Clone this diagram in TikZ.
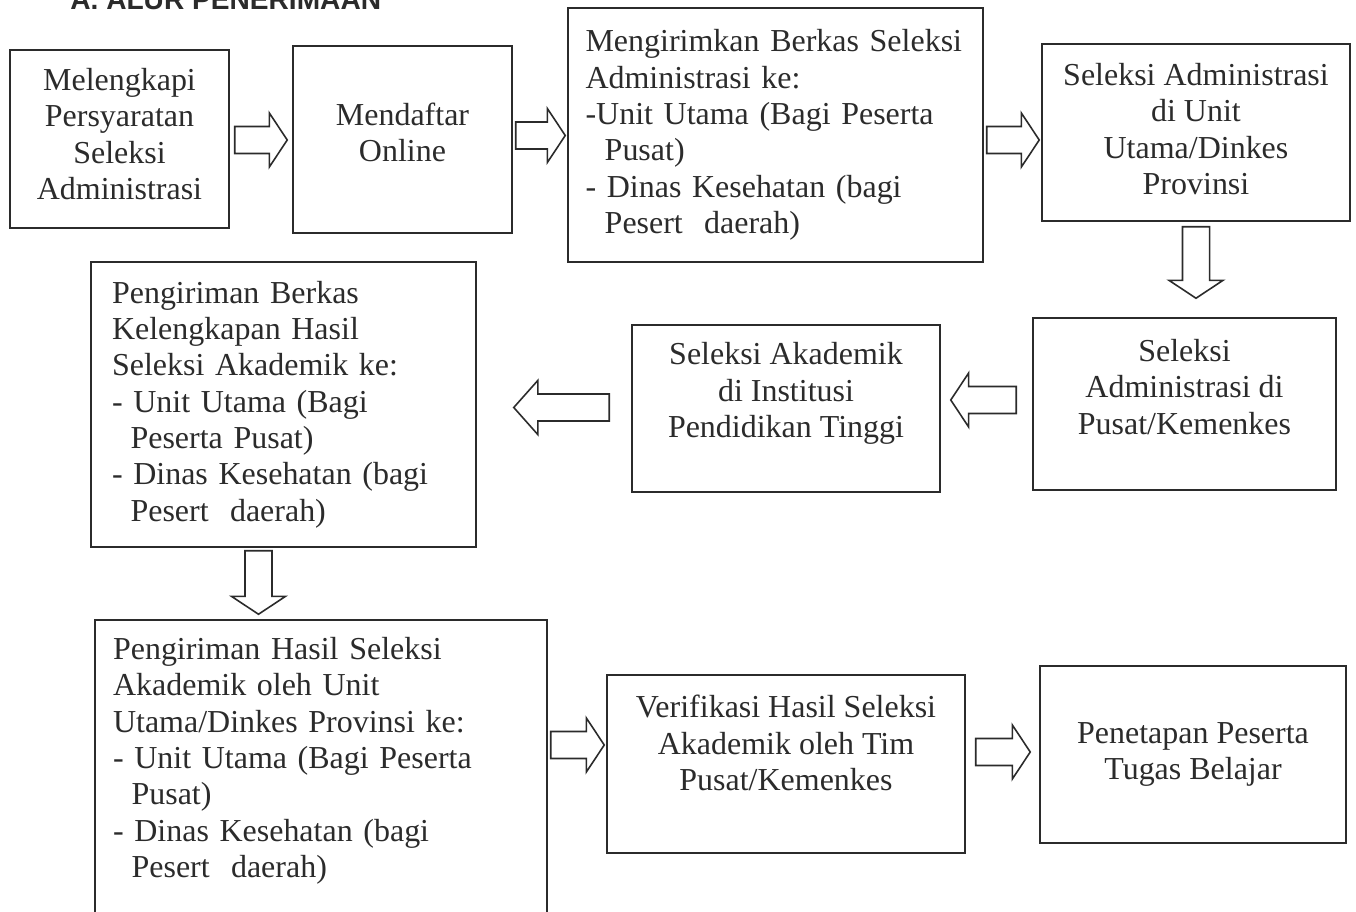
\documentclass[tikz,border=0pt]{standalone}
\usepackage{fontspec}
\setmainfont{Liberation Serif}
\newfontfamily\headfont{Liberation Sans}
\usetikzlibrary{calc}
\usepackage{xcolor}

\definecolor{ink}{HTML}{2B2B2B}

% deepen the last line, so the text sits higher in its box
\newcommand{\drop}[1]{\rule[-#1]{0pt}{0pt}}
\newcommand{\subindent}{\hspace*{0.58em}}
% hollow block arrow from tail (#2) to tip (#3), head length #1
\newcommand{\flowarrow}[3][10.2pt]{%
  \draw[blockarr] let \p1=#2, \p2=#3,
      \n1={atan2(\y2-\y1,\x2-\x1)}, \n2={veclen(\x2-\x1,\y2-\y1)} in
    [shift={(\p1)}, rotate=\n1]
    (0pt,-7.7pt) -- ({\n2*1pt-#1},-7.7pt) -- ({\n2*1pt-#1},-15.4pt) -- ({\n2*1pt},0pt)
    -- ({\n2*1pt-#1},15.4pt) -- ({\n2*1pt-#1},7.7pt) -- (0pt,7.7pt) -- cycle;}

\begin{document}
\begin{tikzpicture}[
                  x = 0.02cm,
                  y = -0.02cm,
        stage/.style = {draw=ink, line width=0.9pt, inner sep=0pt, text=ink,
                        font=\fontsize{18.2}{20.7}\selectfont, align=center},
    stageleft/.style = {stage, align=left},
     blockarr/.style = {draw=ink, line width=0.9pt, fill=white, line join=miter},
                     ]
\useasboundingbox (0,0) rectangle (1356,912);

\node[anchor=base west, inner sep=0pt, text=ink,
      font=\headfont\bfseries\fontsize{16}{16}\selectfont] (judul) at (70,10) {A. ALUR PENERIMAAN};

% top row
\node[stage, minimum width=4.38cm, minimum height=3.56cm] (mel) at (119.5,139)
    {Melengkapi\\ Persyaratan\\ Seleksi\\ Administrasi\drop{6pt}};
\node[stage, minimum width=4.38cm, minimum height=3.74cm] (daf) at (402.5,139.5)
    {Mendaftar\\ Online\drop{8pt}};
\node[stageleft, text width=7.6cm, minimum width=8.3cm, minimum height=5.08cm] (kir) at (775.5,135)
    {Mengirimkan Berkas Seleksi\\ Administrasi ke:\\ -Unit Utama (Bagi Peserta\\
     \hspace*{0.6em}Pusat)\\ - Dinas Kesehatan (bagi\\ \hspace*{0.6em}Pesert~ daerah)};
\node[stage, minimum width=6.16cm, minimum height=3.54cm] (sua) at (1196,132.5)
    {Seleksi Administrasi\\ di Unit\\ Utama/Dinkes\\ Provinsi\drop{4pt}};

% middle row
\node[stage, minimum width=6.06cm, minimum height=3.44cm] (sap) at (1184.5,404)
    {Seleksi\\ Administrasi di\\ Pusat/Kemenkes\drop{19.5pt}};
\node[stage, minimum width=6.16cm, minimum height=3.34cm] (aka) at (786,408.5)
    {Seleksi Akademik\\ di Institusi\\ Pendidikan Tinggi\drop{21pt}};
\node[stageleft, text width=6.86cm, minimum width=7.7cm, minimum height=5.7cm] (pbk) at (283.5,404.5)
    {Pengiriman Berkas\\ Kelengkapan Hasil\\ Seleksi Akademik ke:\\ - Unit Utama (Bagi\\
     \subindent Peserta Pusat)\\ - Dinas Kesehatan (bagi\\ \subindent Pesert~ daerah)};

% bottom row
\node[stageleft, text width=8.32cm, minimum width=9.04cm, minimum height=6.8cm] (phs) at (321,790)
    {Pengiriman Hasil Seleksi\\ Akademik oleh Unit\\ Utama/Dinkes Provinsi ke:\\
     - Unit Utama (Bagi Peserta\\ \subindent Pusat)\\ - Dinas Kesehatan (bagi\\
     \subindent Pesert~ daerah)\drop{37pt}};
\node[stage, minimum width=7.16cm, minimum height=3.56cm] (ver) at (786,764)
    {Verifikasi Hasil Seleksi\\ Akademik oleh Tim\\ Pusat/Kemenkes\drop{24pt}};
\node[stage, minimum width=6.12cm, minimum height=3.54cm] (pen) at (1193,754.5)
    {Penetapan Peserta\\ Tugas Belajar};

% arrows
\flowarrow{($(mel.east)+(5,1)$)}{($(daf.west |- mel.east)+(-5,1)$)}
\flowarrow{($(daf.east)+(3,-4)$)}{($(kir.west |- daf.east)+(-2,-4)$)}
\flowarrow{($(kir.east)+(3,5)$)}{($(sua.west |- kir.east)+(-2,5)$)}
\flowarrow{($(sua.south)+(0,5)$)}{($(sap.north -| sua.south)+(0,-19)$)}
\flowarrow{($(sap.west)+(-16,-4)$)}{($(aka.east |- sap.west)+(10,-4)$)}
\flowarrow[13.7pt]{($(aka.west)+(-22,-1)$)}{($(pbk.east |- aka.west)+(37,-1)$)}
\flowarrow{($(pbk.south)+(-25,3)$)}{($(phs.north -| pbk.south)+(-25,-5)$)}
\flowarrow{($(phs.east |- ver.west)+(3,-19)$)}{($(ver.west)+(-2,-19)$)}
\flowarrow{($(ver.east)+(10,-12)$)}{($(pen.west |- ver.east)+(-9,-12)$)}
\end{tikzpicture}
\end{document}
